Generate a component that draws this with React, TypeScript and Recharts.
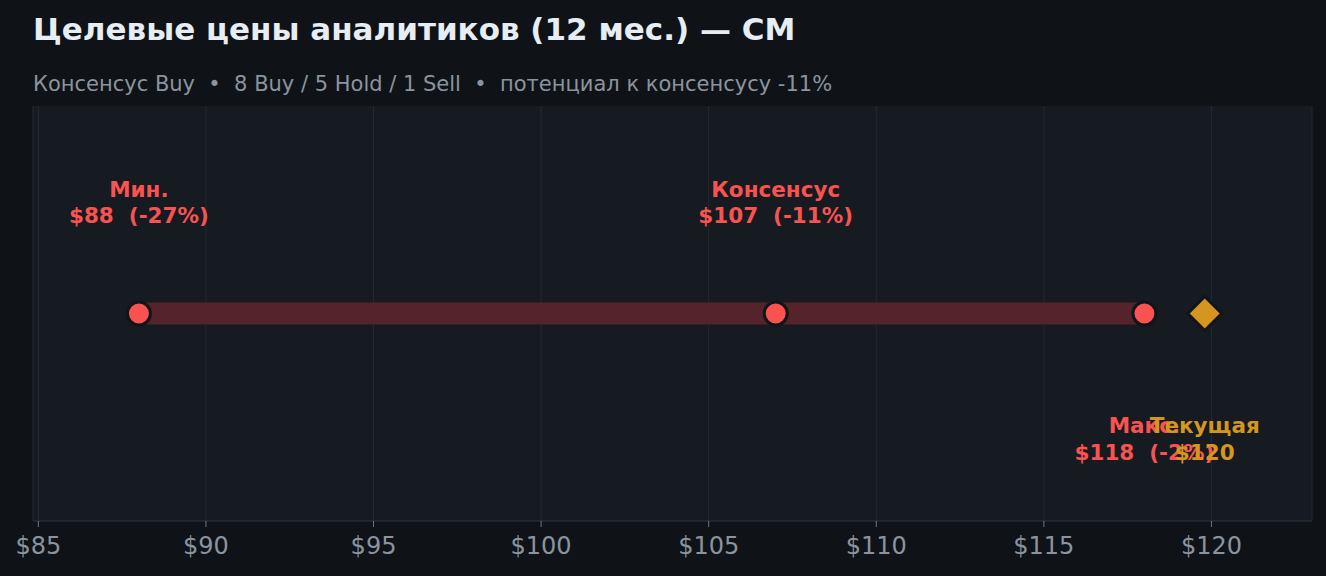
import {
  ComposedChart,
  Scatter,
  XAxis,
  YAxis,
  CartesianGrid,
  ReferenceLine,
} from 'recharts';

// analyst targets
const targetNames = ['Мин.', 'Консенсус', 'Макс.'];
const targetPrices = [88, 107, 118];
const targetUpside = [-27, -11, -2];
const currentName = 'Текущая';
const currentPrice = 119.8;
const currentText = '$120';
const priceTicks = [85, 90, 95, 100, 105, 110, 115, 120];

const W = 1326;
const H = 576;
const FONT = '"DejaVu Sans", sans-serif';
const RED = '#f85350';
const GOLD = '#d4961f';
const PLOT_BG = '#161a21';
const PAGE_BG = '#0f1317';

const targets = targetPrices.map((p, i) => ({
  x: p,
  y: 0,
  name: targetNames[i],
  upside: targetUpside[i],
  last: i === targetPrices.length - 1,
}));
const current = [{ x: currentPrice, y: 0, name: currentName, text: currentText }];

const TargetDot = (props: any) => {
  const { cx, cy, payload } = props;
  // last target (max) sits next to the current price, so its label goes below
  const below = payload.last;
  const y1 = below ? cy + 119 : cy - 117;
  const y2 = below ? cy + 146 : cy - 91;
  return (
    <g>
      <circle cx={cx} cy={cy} r={11.5} fill={RED} stroke="#111419" strokeWidth={3} />
      <text x={cx} y={y1} textAnchor="middle" fill={RED} fontFamily={FONT} fontWeight="bold" fontSize={21.5}>
        {payload.name}
      </text>
      <text x={cx} y={y2} textAnchor="middle" fill={RED} fontFamily={FONT} fontWeight="bold" fontSize={21.5} style={{ whiteSpace: 'pre' }}>
        {`$${payload.x}  (${payload.upside}%)`}
      </text>
    </g>
  );
};

const CurrentDot = (props: any) => {
  const { cx, cy, payload } = props;
  const d = 17;
  return (
    <g>
      <path
        d={`M${cx},${cy - d} L${cx + d},${cy} L${cx},${cy + d} L${cx - d},${cy} Z`}
        fill={GOLD}
        stroke="#111419"
        strokeWidth={3}
        strokeLinejoin="miter"
      />
      <text x={cx} y={cy + 119} textAnchor="middle" fill={GOLD} fontFamily={FONT} fontWeight="bold" fontSize={21.5}>
        {payload.name}
      </text>
      <text x={cx} y={cy + 146} textAnchor="middle" fill={GOLD} fontFamily={FONT} fontWeight="bold" fontSize={21.5}>
        {payload.text}
      </text>
    </g>
  );
};

const PriceTick = (props: any) => {
  const { x, y, payload } = props;
  return (
    <text x={x} y={y + 25} textAnchor="middle" fill="#8b949e" fontFamily={FONT} fontSize={24}>
      {`$${payload.value}`}
    </text>
  );
};

const App = () => {
  return (
    <div style={{ position: 'absolute', left: 0, top: 0, width: W, height: H, background: PAGE_BG }}>
      <svg width={W} height={H} style={{ position: 'absolute', left: 0, top: 0 }}>
        <text x={33} y={40} fill="#e6edf3" fontFamily={FONT} fontWeight="bold" fontSize={31}>
          Целевые цены аналитиков (12 мес.) — CM
        </text>
        <text x={33} y={91} fill="#8b949e" fontFamily={FONT} fontSize={21} style={{ whiteSpace: 'pre' }}>
          {'Консенсус Buy  •  8 Buy / 5 Hold / 1 Sell  •  потенциал к консенсусу -11%'}
        </text>
      </svg>
      <div style={{ position: 'absolute', left: 0, top: 0 }}>
        <ComposedChart width={W} height={H} margin={{ top: 106, right: 14, bottom: 0, left: 33 }}>
          <CartesianGrid horizontal={false} stroke="#242932" fill={PLOT_BG} />
          <XAxis
            type="number"
            dataKey="x"
            domain={[84.84, 123]}
            ticks={priceTicks}
            allowDataOverflow
            height={55}
            stroke="#30363d"
            tickSize={6}
            tickLine={{ stroke: '#6e7681' }}
            tick={<PriceTick />}
            interval={0}
          />
          <YAxis type="number" dataKey="y" domain={[-1, 1]} width={0} tick={false} tickLine={false} stroke="#30363d" />
          <ReferenceLine
            segment={[
              { x: targetPrices[0], y: 0 },
              { x: targetPrices[targetPrices.length - 1], y: 0 },
            ]}
            stroke="#55232a"
            strokeWidth={22}
            ifOverflow="visible"
          />
          <Scatter data={targets} shape={<TargetDot />} isAnimationActive={false} />
          <Scatter data={current} shape={<CurrentDot />} isAnimationActive={false} />
        </ComposedChart>
      </div>
    </div>
  );
};

export default App;
